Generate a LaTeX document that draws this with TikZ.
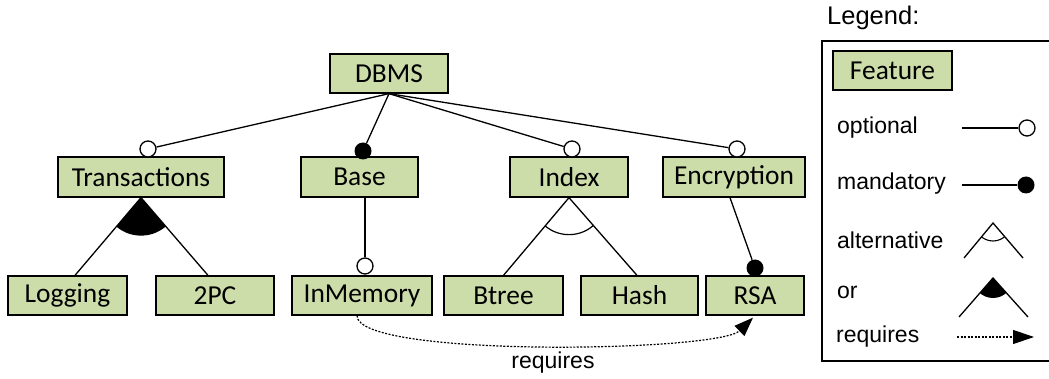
\documentclass[tikz,border=0pt]{standalone}
\usepackage{fontspec}
\setmainfont{Carlito}
\newfontfamily\arialfont{Liberation Sans}
\usetikzlibrary{arrows.meta,calc}
\definecolor{featgreen}{RGB}{205,221,170}
\tikzset{
  feat/.style={draw, line width=1.3pt, fill=featgreen, inner sep=0pt,
    minimum height=39pt, font=\fontsize{27.4}{30}\selectfont},
  link/.style={line width=1.3pt},
  optcirc/.style={circle, draw, line width=1.3pt, fill=white, inner sep=0pt, minimum size=16pt},
  mandcirc/.style={circle, fill=black, inner sep=0pt, minimum size=17pt},
  legtext/.style={anchor=west, inner sep=0pt, font=\arialfont\fontsize{23}{26}\selectfont},
  reqline/.style={line width=1.2pt, dash pattern=on 2pt off 1.5pt},
  reqtip/.style={-{Triangle[length=19pt,width=14pt]}}
}
\begin{document}
\begin{tikzpicture}[x=1pt,y=-1pt]
\useasboundingbox (0,0) rectangle (1049,379);

% feature tree
\node[feat, minimum width=118pt] (dbms)   at (389,73.5) {DBMS};
\node[feat, minimum width=166pt, minimum height=40pt] (trans) at (141,177) {Transactions};
\node[feat, minimum width=117pt, minimum height=40pt] (base)  at (359.5,177) {Base};
\node[feat, minimum width=118pt, minimum height=40pt] (index) at (569,177) {Index};
\node[feat, minimum width=142pt, minimum height=40pt] (encr)  at (734,177) {Encryption};
\node[feat, minimum width=119pt] (logging) at (67.5,295.5) {Logging};
\node[feat, minimum width=118pt] (twopc)   at (215,295.5) {2PC};
\node[feat, minimum width=140pt] (inmem)   at (362,295.5) {InMemory};
\node[feat, minimum width=119pt] (btree)   at (503.5,295.5) {Btree};
\node[feat, minimum width=117pt] (hash)    at (639.5,295.5) {Hash};
\node[feat, minimum width=98pt]  (rsa)     at (755,295.5) {RSA};

% group symbols
\begin{scope}
  \clip (trans.south) -- ($(logging.north)+(7.5,0)$) -- ($(twopc.north)+(-7,0)$) -- cycle;
  \fill (trans.south) circle (38);
\end{scope}
\draw[link] ($(logging.north)+(7.5,0)$) -- (trans.south) -- ($(twopc.north)+(-7,0)$);
\begin{scope}
  \clip (index.south) -- (btree.north) -- ($(hash.north)+(-2.5,0)$) -- cycle;
  \draw[line width=1.2pt] (index.south) circle (37);
\end{scope}
\draw[link] (btree.north) -- (index.south) -- ($(hash.north)+(-2.5,0)$);

% optional / mandatory markers
\node[optcirc]  (ctrans) at (148,149) {};
\node[mandcirc] (cbase)  at (363,151) {};
\node[optcirc]  (cindex) at (572,149) {};
\node[optcirc]  (cencr)  at (737,149) {};
\node[optcirc]  (cinmem) at (365,266) {};
\node[mandcirc] (crsa)   at (755,268) {};

\draw[link] (dbms.south) -- (ctrans);
\draw[link] (dbms.south) -- (cbase);
\draw[link] (dbms.south) -- (cindex);
\draw[link] (dbms.south) -- (cencr);
\draw[link] (cinmem) -- (cinmem |- base.south);
\draw[link] ($(encr.south)+(-4,0)$) -- (crsa);

% cross-tree constraint
\draw[reqline, reqtip] ($(inmem.south)+(-5,0)$) .. controls (357,358) and (718,352) .. ($(rsa.south)+(-2,2)$);
\node[inner sep=0pt, font=\arialfont\fontsize{23}{26}\selectfont] (reqlabel) at (553,363) {requires};

% legend
\node[anchor=west, inner sep=0pt, font=\arialfont\fontsize{25.5}{28}\selectfont] (legtitle) at (827,18) {Legend:};
\draw[line width=1.3pt] (1060,41) -- (822,41) -- (822,361) -- (1060,361);
\node[feat, minimum width=119pt] (legfeat) at (892.5,70.5) {Feature};

\node[legtext] (lopt) at (837,128) {optional};
\coordinate (loptstart) at (962,128);
\node[optcirc] (loptc) at (1027,128) {};
\draw[link] (loptstart) -- (loptc);

\node[legtext] (lmand) at (837,184) {mandatory};
\coordinate (lmandstart) at (962,185);
\node[mandcirc] (lmandc) at (1026,185) {};
\draw[link] (lmandstart) -- (lmandc);

\node[legtext] (lalt) at (837,240) {alternative};
\coordinate (laltapex) at (993,223);
\coordinate (laltl) at (964,258);
\coordinate (laltr) at (1023,258);
\begin{scope}
  \clip (laltapex) -- (laltl) -- (laltr) -- cycle;
  \draw[line width=1.1pt] (laltapex) circle (18);
\end{scope}
\draw[link] (laltl) -- (laltapex) -- (laltr);

\node[legtext] (lor) at (837,292) {or};
\coordinate (lorapex) at (993,278);
\coordinate (lorl) at (959,317);
\coordinate (lorr) at (1028,317);
\begin{scope}
  \clip (lorapex) -- (lorl) -- (lorr) -- cycle;
  \fill (lorapex) circle (20);
\end{scope}
\draw[link] (lorl) -- (lorapex) -- (lorr);

\node[legtext] (lreq) at (836,337) {requires};
\coordinate (lreqstart) at (957,337);
\coordinate (lreqend) at (1034,337);
\draw[reqline, -{Triangle[length=21pt,width=14pt]}] (lreqstart) -- (lreqend);
\end{tikzpicture}
\end{document}
